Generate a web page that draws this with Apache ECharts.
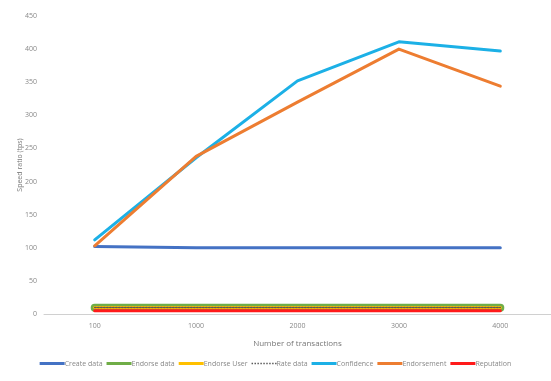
<!DOCTYPE html>
<html>
<head>
<meta charset="utf-8">
<script src="https://cdn.jsdelivr.net/npm/echarts@6/dist/echarts.min.js"></script>
<style>
  html, body { margin: 0; padding: 0; background: #fff; }
  #chart { width: 551px; height: 381px; }
</style>
</head>
<body>
<div id="chart"></div>
<script>
// Transaction counts on the x axis
const categories = ['100', '1000', '2000', '3000', '4000'];

// Speed ratio (tps) per operation
const createData   = [102, 100, 100, 100, 100];
const endorseData  = [9.5, 9.5, 9.5, 9.5, 9.5];
const endorseUser  = [10, 10, 10, 10, 10];
const rateData     = [10, 10, 10, 10, 10];
const confidence   = [112, 236, 352, 411, 397];
const endorsement  = [103, 238, 320, 400, 344];
const reputation   = [5, 5, 5, 5, 5];

const yTicks = { min: 0, max: 450, interval: 50 };

const chart = echarts.init(document.getElementById('chart'));

function lineSeries(name, data, color, width, z, type) {
  return {
    name: name,
    type: 'line',
    data: data,
    symbol: 'none',
    z: z,
    lineStyle: { color: color, width: width, type: type || 'solid', cap: 'round', join: 'round' },
    itemStyle: { color: color }
  };
}

// Legend keys: a short bar, and a dotted bar for the dotted series
const barIcon = 'path://M0,0 L25,0 L25,3 L0,3 Z';
let dots = '';
for (let i = 0; i < 9; i++) {
  const x = i * 3;
  dots += 'M' + x + ',0 L' + (x + 1.5) + ',0 L' + (x + 1.5) + ',1.5 L' + x + ',1.5 Z ';
}
const dotIcon = 'path://' + dots;

chart.setOption({
  animation: false,
  textStyle: { fontFamily: 'Open Sans, Liberation Sans, sans-serif' },
  grid: { left: 44, top: 16, width: 515, height: 298 },
  xAxis: {
    type: 'category',
    data: categories,
    boundaryGap: true,
    name: 'Number of transactions',
    nameLocation: 'middle',
    nameGap: 26,
    nameTextStyle: { fontSize: 8, color: '#777' },
    axisLine: { lineStyle: { color: '#d0d0d0', width: 1 } },
    axisTick: { show: false },
    axisLabel: { fontSize: 7, color: '#888', margin: 8 }
  },
  yAxis: {
    type: 'value',
    min: yTicks.min,
    max: yTicks.max,
    interval: yTicks.interval,
    name: 'Speed ratio (tps)',
    nameLocation: 'middle',
    nameGap: 21,
    nameMoveOverlap: false,
    nameTextStyle: { fontSize: 7, color: '#777' },
    axisLine: { show: false },
    axisTick: { show: false },
    splitLine: { show: false },
    axisLabel: { fontSize: 7, color: '#888', margin: 7 }
  },
  legend: {
    bottom: 9,
    left: 'center',
    itemWidth: 25,
    itemHeight: 3,
    itemGap: 4,
    icon: barIcon,
    textStyle: { fontSize: 7, color: '#888', padding: [0, 0, 0, -5] },
    data: [
      'Create data', 'Endorse data', 'Endorse User',
      { name: 'Rate data', icon: dotIcon },
      'Confidence', 'Endorsement', 'Reputation'
    ]
  },
  series: [
    lineSeries('Create data', createData, '#4472C4', 3, 2),
    lineSeries('Endorse data', endorseData, '#70AD47', 8, 3),
    lineSeries('Endorse User', endorseUser, '#FFC000', 3, 5),
    lineSeries('Rate data', rateData, '#595959', 1.5, 6, [1.5, 1.5]),
    lineSeries('Confidence', confidence, '#1CB0E6', 3, 7),
    lineSeries('Endorsement', endorsement, '#ED7D31', 3, 8),
    lineSeries('Reputation', reputation, '#FF1A1A', 3, 4)
  ]
});
</script>
</body>
</html>
